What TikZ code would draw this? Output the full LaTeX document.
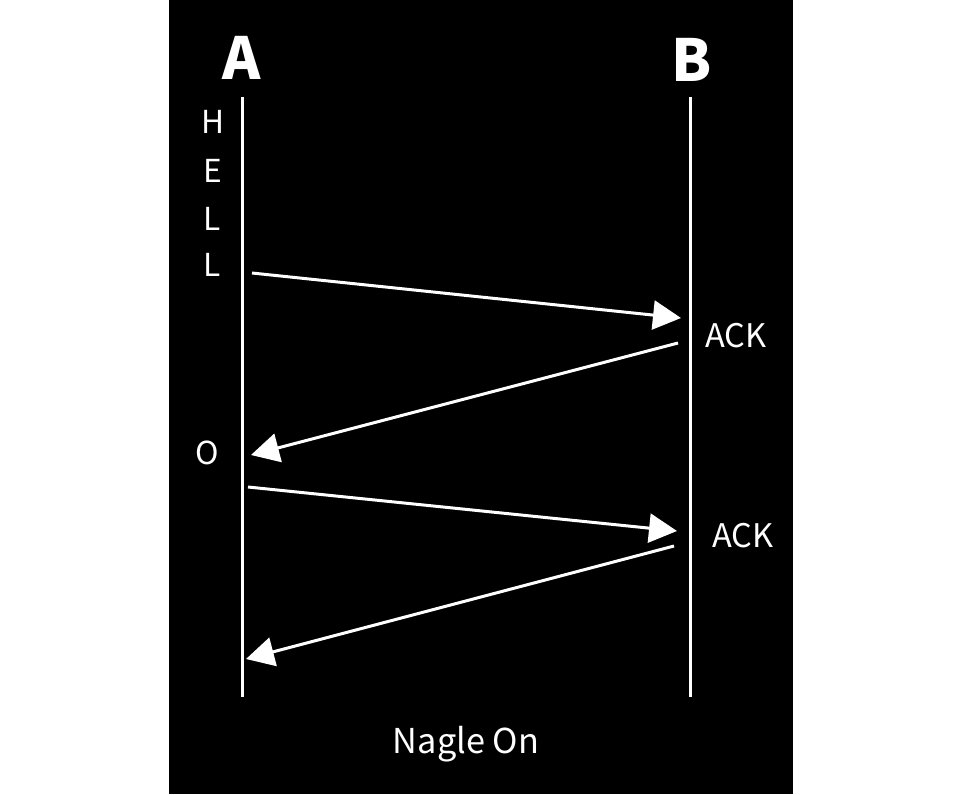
\documentclass[tikz,border=0pt]{standalone}
\usepackage{fontspec}
\setmainfont{Noto Sans CJK SC}
\usetikzlibrary{arrows.meta}
\begin{document}
\begin{tikzpicture}[x=0.02cm, y=-0.02cm, white,
  line width=0.06cm,
  msg/.style={-{Triangle[length=0.56cm, width=0.58cm]}},
  host/.style={anchor=base, inner sep=0pt, font=\fontsize{33}{33}\selectfont\bfseries},
  letter/.style={anchor=base, inner sep=0pt, font=\fontsize{18}{18}\selectfont},
  reply/.style={anchor=base, inner sep=0pt, font=\fontsize{18.5}{18.5}\selectfont}]
\useasboundingbox (0,0) rectangle (956,794);
\fill[white] (0,0) rectangle (956,794);
\fill[black] (169,0) rectangle (793,794);
% hosts and lifelines
\node [host] (hostA) at (242,80) {A};
\node [host] (hostB) at (692,82) {B};
\coordinate (topA) at (242,97);
\coordinate (botA) at (242,697);
\coordinate (topB) at (690,97);
\coordinate (botB) at (690,697);
\draw (topA) -- (botA);
\draw (topB) -- (botB);
% letters typed at A
\node [letter] (h) at (213,133) {H};
\node [letter] (e) at (213,182) {E};
\node [letter] (l1) at (212,230) {L};
\node [letter] (l2) at (212,276) {L};
\node [letter] (o) at (207,464) {O};
\node [reply] (ack1) at (736,347) {ACK};
\node [reply] (ack2) at (743,547) {ACK};
\node [reply, font=\fontsize{19.5}{19.5}\selectfont] (title) at (466,753) {Nagle On};
% segments
\coordinate (s1) at (252,273);
\coordinate (t1) at (681,318);
\coordinate (s2) at (678,343);
\coordinate (t2) at (251,455);
\coordinate (s3) at (248,487);
\coordinate (t3) at (677,531);
\coordinate (s4) at (674,546);
\coordinate (t4) at (246,659);
\draw [msg] (s1) -- (t1);
\draw [msg] (s2) -- (t2);
\draw [msg] (s3) -- (t3);
\draw [msg] (s4) -- (t4);
\end{tikzpicture}
\end{document}
